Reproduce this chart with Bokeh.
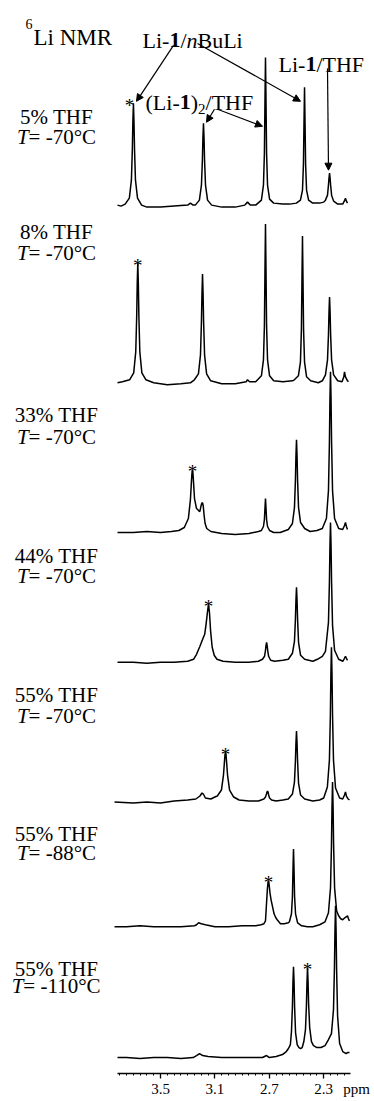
import numpy as np
from bokeh.plotting import figure
from bokeh.models import Range1d, FixedTicker, Arrow, NormalHead, LinearAxis
from bokeh.core.properties import value
from bokeh.embed import file_html
from bokeh.resources import INLINE

# ---------------- data ----------------
# each spectrum: (chemical shift / ppm, intensity / arbitrary units)
spec_5_70 = [(3.816, 2), (3.79, 1), (3.76, 3), (3.729, 9), (3.714, 27), (3.707, 58), (3.703, 86),
             (3.699, 104), (3.695, 86), (3.691, 58), (3.684, 27), (3.669, 9), (3.639, 2), (3.60, 0),
             (3.50, 0), (3.40, 1), (3.30, 2), (3.28, 4), (3.26, 2), (3.244, 2), (3.214, 7), (3.199, 22),
             (3.192, 47), (3.188, 70), (3.184, 84), (3.180, 70), (3.176, 47), (3.169, 22), (3.154, 7),
             (3.124, 2), (3.05, 0), (2.95, 0), (2.88, 2), (2.86, 5), (2.84, 2), (2.80, 2), (2.758, 7),
             (2.743, 22), (2.736, 54), (2.732, 104), (2.728, 150), (2.724, 104), (2.720, 54), (2.713, 22),
             (2.698, 8), (2.668, 4), (2.60, 3), (2.55, 3), (2.501, 4), (2.471, 7), (2.456, 17), (2.449, 43),
             (2.445, 83), (2.441, 120), (2.437, 83), (2.433, 43), (2.426, 17), (2.411, 7), (2.381, 4),
             (2.33, 4), (2.30, 5), (2.287, 7), (2.272, 12), (2.265, 22), (2.261, 29), (2.257, 34),
             (2.253, 29), (2.249, 22), (2.242, 12), (2.227, 6), (2.197, 3), (2.16, 3), (2.145, 7),
             (2.14, 9), (2.133, 6), (2.125, 4)]

spec_8_70 = [(3.816, 0), (3.78, 1), (3.727, 3), (3.697, 10), (3.682, 31), (3.675, 67), (3.671, 100),
             (3.667, 120), (3.663, 100), (3.659, 67), (3.652, 31), (3.637, 10), (3.607, 3), (3.55, 0),
             (3.45, -2), (3.35, -1), (3.28, 0), (3.251, 3), (3.221, 9), (3.206, 28), (3.199, 61),
             (3.195, 90), (3.191, 109), (3.187, 90), (3.183, 61), (3.176, 28), (3.161, 9), (3.131, 2),
             (3.05, -1), (2.95, -1), (2.87, 1), (2.86, 3), (2.845, 1), (2.80, 1), (2.758, 7), (2.743, 23),
             (2.736, 57), (2.732, 110), (2.728, 159), (2.724, 110), (2.720, 57), (2.713, 23), (2.698, 7),
             (2.668, 2), (2.60, 1), (2.53, 2), (2.516, 3), (2.486, 7), (2.471, 21), (2.464, 53),
             (2.460, 101), (2.456, 147), (2.452, 101), (2.448, 53), (2.441, 21), (2.426, 6), (2.396, 2),
             (2.34, 0), (2.31, 2), (2.287, 8), (2.272, 23), (2.265, 48), (2.261, 71), (2.257, 86),
             (2.253, 71), (2.249, 48), (2.242, 23), (2.227, 8), (2.197, 2), (2.165, 1), (2.152, 6),
             (2.147, 11), (2.140, 6), (2.125, 2), (2.118, 1)]

spec_33_70 = [(3.816, 0), (3.70, 0), (3.60, 1), (3.50, 0), (3.42, 1), (3.365, 2), (3.325, 5), (3.295, 14),
              (3.280, 33), (3.273, 50), (3.269, 59), (3.265, 63), (3.261, 59), (3.257, 50), (3.250, 34),
              (3.235, 24), (3.220, 22), (3.211, 21), (3.203, 26), (3.197, 29), (3.191, 30), (3.186, 27),
              (3.180, 18), (3.172, 9), (3.160, 4), (3.130, 1), (3.05, -1), (2.95, -2), (2.85, -1),
              (2.78, 1), (2.758, 2), (2.743, 6), (2.736, 13), (2.732, 24), (2.728, 34), (2.724, 24),
              (2.720, 13), (2.713, 6), (2.698, 2), (2.668, 0), (2.62, 0), (2.56, 3), (2.53, 9), (2.515, 25),
              (2.508, 52), (2.504, 77), (2.500, 93), (2.496, 77), (2.492, 52), (2.485, 25), (2.47, 10),
              (2.44, 4), (2.40, 1), (2.35, 2), (2.31, 4), (2.28, 14), (2.265, 42), (2.258, 90),
              (2.254, 134), (2.250, 161), (2.246, 134), (2.242, 90), (2.235, 42), (2.22, 14), (2.19, 4),
              (2.16, 3), (2.147, 7), (2.14, 10), (2.133, 6), (2.125, 3)]

spec_44_70 = [(3.816, 0), (3.70, 0), (3.60, -1), (3.50, 0), (3.40, 0), (3.30, 1), (3.257, 3), (3.235, 8),
              (3.21, 16), (3.19, 23), (3.175, 28), (3.165, 38), (3.155, 50), (3.147, 58), (3.140, 50),
              (3.132, 32), (3.12, 15), (3.105, 7), (3.085, 3), (3.04, 1), (2.95, 0), (2.85, 0), (2.78, 1),
              (2.75, 3), (2.735, 6), (2.728, 12), (2.724, 17), (2.72, 20), (2.716, 17), (2.712, 12),
              (2.705, 6), (2.69, 2), (2.66, 1), (2.60, 2), (2.56, 3), (2.53, 9), (2.515, 21), (2.508, 43),
              (2.504, 62), (2.50, 75), (2.496, 62), (2.492, 43), (2.485, 20), (2.47, 7), (2.44, 3),
              (2.38, 1), (2.346, 3), (2.31, 6), (2.287, 11), (2.265, 40), (2.258, 80), (2.254, 117),
              (2.25, 140), (2.246, 117), (2.242, 80), (2.235, 37), (2.22, 12), (2.19, 3), (2.16, 1),
              (2.147, 4), (2.14, 6), (2.133, 4), (2.125, 2)]

spec_55_70 = [(3.838, 0), (3.70, -1), (3.60, 0), (3.50, -1), (3.40, 1), (3.30, 2), (3.24, 3), (3.21, 6),
              (3.195, 9), (3.185, 8), (3.17, 4), (3.13, 3), (3.10, 5), (3.082, 6), (3.052, 12), (3.037, 27),
              (3.030, 40), (3.026, 47), (3.022, 50), (3.018, 47), (3.014, 40), (3.007, 27), (2.992, 12),
              (2.962, 5), (2.922, 2), (2.85, 1), (2.78, 1), (2.74, 3), (2.728, 5), (2.721, 8), (2.717, 10),
              (2.713, 11), (2.709, 10), (2.705, 7), (2.698, 4), (2.683, 2), (2.65, 1), (2.60, 2), (2.56, 3),
              (2.53, 8), (2.515, 20), (2.508, 41), (2.504, 59), (2.50, 71), (2.496, 59), (2.492, 41),
              (2.485, 19), (2.47, 7), (2.44, 3), (2.38, 1), (2.33, 2), (2.30, 4), (2.273, 15), (2.258, 42),
              (2.251, 87), (2.247, 129), (2.243, 155), (2.239, 129), (2.235, 87), (2.228, 42), (2.213, 14),
              (2.183, 4), (2.16, 3), (2.147, 7), (2.14, 10), (2.133, 6), (2.12, 3), (2.11, 2)]

spec_55_88 = [(3.838, 0), (3.75, 0), (3.65, 1), (3.55, 0), (3.45, 0), (3.35, 0), (3.25, 1), (3.235, 2),
              (3.22, 4), (3.20, 3), (3.17, 2), (3.10, 0), (3.00, 0), (2.90, 1), (2.80, 1), (2.76, 2),
              (2.74, 3), (2.728, 6), (2.721, 22), (2.714, 38), (2.709, 45), (2.706, 46), (2.702, 43),
              (2.695, 34), (2.687, 27), (2.679, 22), (2.665, 13), (2.652, 9), (2.642, 7), (2.63, 5),
              (2.618, 3), (2.59, 3), (2.56, 4), (2.552, 5), (2.537, 13), (2.530, 30), (2.526, 56),
              (2.522, 78), (2.518, 56), (2.514, 30), (2.507, 13), (2.492, 4), (2.462, 1), (2.42, 0),
              (2.38, 0), (2.33, 2), (2.29, 5), (2.265, 14), (2.25, 39), (2.243, 81), (2.239, 120),
              (2.235, 145), (2.231, 120), (2.227, 81), (2.22, 39), (2.205, 16), (2.19, 11), (2.175, 8),
              (2.16, 7), (2.145, 9), (2.125, 11), (2.118, 8), (2.11, 6)]

spec_55_110 = [(3.816, 0), (3.75, 0), (3.65, -1), (3.55, 0), (3.45, 0), (3.35, -1), (3.26, 0), (3.235, 2),
               (3.213, 4), (3.19, 2), (3.15, 1), (3.05, 0), (2.95, 0), (2.85, 0), (2.75, 0), (2.72, 2),
               (2.70, 0), (2.65, 1), (2.603, 3), (2.575, 6), (2.559, 9), (2.545, 13), (2.537, 26),
               (2.530, 51), (2.526, 76), (2.522, 91), (2.518, 76), (2.514, 51), (2.507, 25), (2.495, 13),
               (2.482, 10), (2.47, 9), (2.458, 10), (2.446, 16), (2.434, 28), (2.427, 52), (2.423, 75),
               (2.419, 90), (2.415, 76), (2.411, 54), (2.403, 30), (2.39, 16), (2.375, 12), (2.35, 10),
               (2.32, 10), (2.29, 12), (2.265, 18), (2.243, 24), (2.228, 48), (2.221, 90), (2.217, 128),
               (2.213, 152), (2.209, 128), (2.205, 88), (2.198, 42), (2.183, 14), (2.16, 6), (2.135, 4),
               (2.125, 5), (2.11, 5)]

spectra = [spec_5_70, spec_8_70, spec_33_70, spec_44_70, spec_55_70, spec_55_88, spec_55_110]
thf_labels = ["5% THF", "8% THF", "33% THF", "44% THF", "55% THF", "55% THF", "55% THF"]
temp_labels = ["-70°C", "-70°C", "-70°C", "-70°C", "-70°C", "-88°C", "-110°C"]
star_ppm = [3.699, 3.667, 3.265, 3.147, 3.022, 2.706, 2.419]   # peaks marked with *
tick_values = [3.5, 3.1, 2.7, 2.3]
tick_labels = ["3.5", "3.1", "2.7", "2.3"]
unit_label = "ppm"
minor_ticks = [round(3.80 - 0.05 * k, 2) for k in range(34)]

# ---------------- layout helpers (page pixel -> data) ----------------
SERIF = "Liberation Serif"
FIG_W, FIG_H = 372, 1099
AXIS_Y = 1075          # page y of the axis line


def px(x):   # horizontal page pixel -> ppm
    return 3.5 - (x - 160.0) / 136.0


def py(y):   # vertical page pixel -> data y
    return AXIS_Y - y


baselines_px = [207, 383, 533, 663, 803, 928, 1059]
offsets = [py(b) for b in baselines_px]
label1_px = [117, 232, 415, 557, 696, 835, 970]
label2_px = [137, 253, 437, 577, 717, 854, 987]

# Times / Liberation Serif advance widths (1/1000 em)
W = {
    "normal": {"L": 611, "i": 278, "-": 333, "/": 278, "B": 667, "u": 500, "T": 611, "H": 722,
               "F": 556, "(": 333, ")": 333, " ": 250, "=": 564, "°": 400, "C": 667, "N": 722,
               "M": 889, "R": 667, "%": 833, "0": 500, "1": 500, "2": 500, "3": 500, "4": 500,
               "5": 500, "6": 500, "7": 500, "8": 500, "9": 500},
    "bold": {"1": 500},
    "italic": {"n": 500, "T": 556},
}


def tw(s, style, size):
    return sum(W[style][c] for c in s) * size / 1000.0


p = figure(width=FIG_W, height=FIG_H,
           x_range=Range1d(px(0), px(FIG_W)), y_range=Range1d(py(AXIS_Y), py(0)),
           output_backend="svg", toolbar_location=None, y_axis_location=None,
           min_border_left=0, min_border_right=0, min_border_top=0, min_border_bottom=0)
p.outline_line_color = None
p.grid.visible = False
p.background_fill_color = "white"
p.border_fill_color = "white"

# axis line with major / minor ticks (its own labels are switched off)
ax = p.xaxis[0]
ax.ticker = FixedTicker(ticks=tick_values, minor_ticks=minor_ticks)
ax.bounds = (2.103, 3.816)
ax.axis_line_width = 1.5
ax.axis_line_color = "black"
ax.major_tick_out = 5
ax.major_tick_in = 0
ax.minor_tick_out = 2
ax.minor_tick_in = 0
ax.major_tick_line_width = 1.3
ax.major_label_standoff = 0
ax.major_label_text_font_size = "1px"
ax.major_label_text_color = None

# tick labels and unit, on a second axis just beneath the first
ppm_pos = px(356)
labels_axis = LinearAxis(
    ticker=FixedTicker(ticks=tick_values + [ppm_pos]),
    major_label_overrides={**{v: l for v, l in zip(tick_values, tick_labels)}, ppm_pos: unit_label},
    axis_line_color=None, major_tick_line_color=None, minor_tick_line_color=None,
    major_tick_out=0, major_tick_in=0, minor_tick_out=0, minor_tick_in=0,
    major_label_standoff=2, major_label_text_font=SERIF, major_label_text_font_size="15px",
    major_label_text_color="black")
p.add_layout(labels_axis, "below")

# spectra
for spec, off in zip(spectra, offsets):
    xs = [a for a, b in spec]
    ys = [off + b for a, b in spec]
    p.line(xs, ys, line_width=1.5, line_color="black")

# asterisks on the marked peaks
for k, (spec, sp) in enumerate(zip(spectra, star_ppm)):
    h = dict(spec)[sp]
    p.text(x=[sp], y=[offsets[k] + h], text=["*"], x_offset=(-4 if k == 0 else 0), y_offset=2,
           text_font=value(SERIF), text_font_size="19px", text_align="center",
           text_baseline="alphabetic", text_color="black")


def pieces(x_img, base_img, parts, size):
    x = x_img
    for txt, style in parts:
        p.text(x=[px(x)], y=[py(base_img)], text=[txt], text_font=value(SERIF),
               text_font_size=f"{size}px", text_font_style=style, text_align="left",
               text_baseline="alphabetic", text_color="black")
        x += tw(txt, style, size)
    return x


# condition labels
LS = 21
CX = 56
for k in range(len(spectra)):
    w1 = tw(thf_labels[k], "normal", LS)
    pieces(CX - w1 / 2, label1_px[k], [(thf_labels[k], "normal")], LS)
    rest = "= " + temp_labels[k]
    w2 = tw("T", "italic", LS) + tw(rest, "normal", LS)
    pieces(CX - w2 / 2, label2_px[k], [("T", "italic"), (rest, "normal")], LS)

# title "6Li NMR"
pieces(25, 24, [("6", "normal")], 14)
pieces(33, 37, [("Li NMR", "normal")], 23)

# species labels
AS = 22
pieces(142, 40, [("Li-", "normal"), ("1", "bold"), ("/", "normal"), ("n", "italic"), ("BuLi", "normal")], AS)
pieces(278, 64, [("Li-", "normal"), ("1", "bold"), ("/THF", "normal")], AS)
xe = pieces(145, 102, [("(Li-", "normal"), ("1", "bold"), (")", "normal")], AS)
xe = pieces(xe, 109, [("2", "normal")], 15)
pieces(xe, 102, [("/THF", "normal")], AS)

# arrows
for (x0, y0, x1, y1) in [(173, 45, 136, 101), (197, 43, 300, 101), (214, 109, 206, 122),
                         (217, 109, 262, 126), (327, 68, 328, 170)]:
    p.add_layout(Arrow(end=NormalHead(size=7, fill_color="black", line_color="black", line_width=1),
                       x_start=px(x0), y_start=py(y0), x_end=px(x1), y_end=py(y1),
                       line_width=1.2, line_color="black"))

open("out.html", "w").write(file_html(p, INLINE))
